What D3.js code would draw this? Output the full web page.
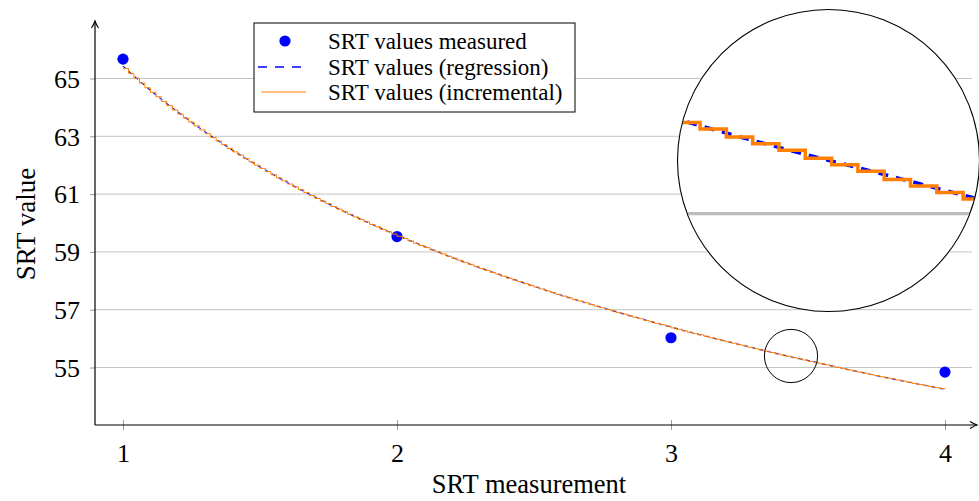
<!DOCTYPE html>
<html><head><meta charset="utf-8">
<script src="https://cdn.jsdelivr.net/npm/d3@7"></script>
<style>
body{margin:0;background:#fff}
svg{display:block}
text{font-family:'Liberation Serif','Times New Roman',serif;fill:#000}
</style>
</head><body>
<svg id="c" width="979" height="501"></svg>
<script>
// ---------- data ----------
const xTicks = [1, 2, 3, 4];
const yTicks = [55, 57, 59, 61, 63, 65];
const measuredX = [1, 2, 3, 4];
const measuredY = [65.67, 59.53, 56.03, 54.84];
const regressionX = [1.0,1.1,1.2,1.3,1.4,1.5,1.6,1.7,1.8,1.9,2.0,2.1,2.2,2.3,2.4,2.5,2.6,2.7,2.8,2.9,3.0,3.1,3.2,3.3,3.4,3.5,3.6,3.7,3.8,3.9,4.0];
const regressionY = [65.43,64.59,63.84,63.15,62.52,61.94,61.40,60.90,60.43,59.99,59.58,59.19,58.81,58.46,58.13,57.81,57.50,57.21,56.93,56.66,56.40,56.15,55.91,55.68,55.45,55.24,55.03,54.82,54.62,54.43,54.25];
const incrementalStart = 1.0, incrementalStep = 0.02;
const incrementalY = [
65.35,65.18,65.01,64.84,64.68, 64.52,64.37,64.21,64.06,63.91,
63.77,63.63,63.49,63.36,63.22, 63.09,62.96,62.84,62.71,62.58,
62.46,62.35,62.23,62.11,62.00, 61.89,61.78,61.67,61.56,61.46,
61.35,61.25,61.15,61.05,60.95, 60.85,60.76,60.67,60.57,60.48,
60.39,60.30,60.21,60.12,60.04, 59.95,59.87,59.78,59.70,59.62,
59.54,59.46,59.38,59.30,59.22, 59.15,59.07,59.00,58.93,58.85,
58.78,58.71,58.64,58.57,58.50, 58.43,58.36,58.29,58.23,58.16,
58.09,58.03,57.97,57.90,57.84, 57.78,57.72,57.65,57.59,57.53,
57.47,57.41,57.35,57.30,57.24, 57.18,57.12,57.07,57.01,56.96,
56.90,56.85,56.79,56.74,56.69, 56.63,56.58,56.53,56.48,56.43,
56.37,56.32,56.27,56.22,56.17, 56.13,56.08,56.03,55.98,55.93,
55.89,55.84,55.79,55.75,55.70, 55.65,55.61,55.56,55.52,55.47,
55.43,55.39,55.34,55.30,55.26, 55.21,55.17,55.13,55.09,55.05,
55.00,54.96,54.92,54.88,54.84, 54.80,54.76,54.72,54.68,54.64,
54.61,54.57,54.53,54.49,54.45, 54.41,54.38,54.34,54.30,54.27,
54.25];
const legendLabels = ["SRT values measured", "SRT values (regression)", "SRT values (incremental)"];

// ---------- setup ----------
const svg = d3.select("#c");
const BLUE = "#0000ff", ORANGE = "#ff8000", GRID = "#c4c4c4";
const x = d3.scaleLinear().domain([1, 4]).range([123, 945]);
const y = d3.scaleLinear().domain([55, 65]).range([367.5, 78.5]);
const axisX0 = 95, axisY0 = 425;

const measured = measuredX.map((v, i) => [v, measuredY[i]]);
const regression = regressionX.map((v, i) => [v, regressionY[i]]);
const incremental = incrementalY.map((v, i) => [+(incrementalStart + i * incrementalStep).toFixed(2), v]);

// grid
svg.append("g").selectAll("line").data(yTicks).join("line")
  .attr("x1", axisX0).attr("x2", 972)
  .attr("y1", d => y(d)).attr("y2", d => y(d))
  .attr("stroke", GRID).attr("stroke-width", 1);

// y axis ticks and labels
const gy = svg.append("g").attr("transform", `translate(${axisX0},0)`)
  .call(d3.axisLeft(y).tickValues(yTicks).tickSize(5).tickPadding(10).tickFormat(d3.format("d")));
gy.select(".domain").remove();
gy.selectAll(".tick line").attr("stroke", "#999");
gy.selectAll("text").attr("font-size", 26).attr("font-family", "'Liberation Serif',serif").attr("dy", "0.34em");

// x axis ticks and labels
const gx = svg.append("g").attr("transform", `translate(0,${axisY0})`)
  .call(d3.axisBottom(x).tickValues(xTicks).tickSize(5).tickFormat(d3.format("d")));
gx.select(".domain").remove();
gx.selectAll(".tick line").attr("y1", -5).attr("y2", 5).attr("stroke", "#999");
gx.selectAll("text").attr("font-size", 26).attr("font-family", "'Liberation Serif',serif").attr("y", 37).attr("dy", null);

// axis lines with arrows
svg.append("line").attr("x1", axisX0).attr("y1", axisY0).attr("x2", axisX0).attr("y2", 21).attr("stroke", "#000").attr("stroke-width", 1.2);
svg.append("path").attr("d", `M${axisX0-3.5},28 Q${axisX0-1},24 ${axisX0},21 Q${axisX0+1},24 ${axisX0+3.5},28`).attr("fill", "none").attr("stroke", "#000").attr("stroke-width", 1.1);
svg.append("line").attr("x1", axisX0).attr("y1", axisY0).attr("x2", 977).attr("y2", axisY0).attr("stroke", "#000").attr("stroke-width", 1.2);
svg.append("path").attr("d", `M970,${axisY0-3.5} Q974,${axisY0-1} 977,${axisY0} Q974,${axisY0+1} 970,${axisY0+3.5}`).attr("fill", "none").attr("stroke", "#000").attr("stroke-width", 1.1);

// axis titles
svg.append("text").attr("x", 529).attr("y", 493).attr("text-anchor", "middle").attr("font-size", 26.5).text("SRT measurement");
svg.append("text").attr("transform", "translate(35,224) rotate(-90)").attr("text-anchor", "middle").attr("font-size", 27).text("SRT value");

// series
function drawSeries(g, xs, ys, opts) {
  g.selectAll("circle.m").data(measured).join("circle").attr("class", "m")
    .attr("cx", d => xs(d[0])).attr("cy", d => ys(d[1])).attr("r", opts.r).attr("fill", BLUE);
  g.append("path").datum(regression)
    .attr("d", d3.line().x(d => xs(d[0])).y(d => ys(d[1])).curve(d3.curveCatmullRom))
    .attr("fill", "none").attr("stroke", BLUE).attr("stroke-width", opts.bw).attr("stroke-dasharray", opts.dash);
  g.append("path").datum(incremental)
    .attr("d", d3.line().x(d => xs(d[0])).y(d => ys(d[1])).curve(d3.curveStepAfter))
    .attr("fill", "none").attr("stroke", ORANGE).attr("stroke-width", opts.ow).attr("stroke-linejoin", "miter");
}
drawSeries(svg.append("g"), x, y, { r: 5.6, bw: 1.1, ow: 1.0, dash: "4,4" });

// spy circle (source)
svg.append("circle").attr("cx", 791).attr("cy", 356).attr("r", 26.6)
  .attr("fill", "none").attr("stroke", "#000").attr("stroke-width", 1);

// magnified inset
const cx = 828.5, cy = 160.5, R = 151, sx = 796.4, sy = 358.07, kx = 4.8, ky = 5.63;
const xz = d3.scaleLinear().domain(x.domain()).range(x.range().map(p => cx + (p - sx) * kx));
const yz = d3.scaleLinear().domain(y.domain()).range(y.range().map(p => cy + (p - sy) * ky));
svg.append("defs").append("clipPath").attr("id", "spy").append("circle").attr("cx", cx).attr("cy", cy).attr("r", R - 0.5);
svg.append("circle").attr("cx", cx).attr("cy", cy).attr("r", R).attr("fill", "#fff");
const gz = svg.append("g").attr("clip-path", "url(#spy)");
gz.selectAll("line").data(yTicks).join("line")
  .attr("x1", cx - R).attr("x2", cx + R).attr("y1", d => yz(d)).attr("y2", d => yz(d))
  .attr("stroke", "#bdbdbd").attr("stroke-width", 3.3);
drawSeries(gz, xz, yz, { r: 0, bw: 3.6, ow: 3.5, dash: "10,8" });
svg.append("circle").attr("cx", cx).attr("cy", cy).attr("r", R)
  .attr("fill", "none").attr("stroke", "#000").attr("stroke-width", 1.1);

// legend
const lg = svg.append("g");
lg.append("rect").attr("x", 254).attr("y", 23).attr("width", 321).attr("height", 89)
  .attr("fill", "#fff").attr("stroke", "#000").attr("stroke-width", 1);
const rowsY = [41, 67, 92];
lg.append("circle").attr("cx", 285).attr("cy", rowsY[0]).attr("r", 5.6).attr("fill", BLUE);
lg.append("line").attr("x1", 258).attr("x2", 304).attr("y1", rowsY[1]).attr("y2", rowsY[1])
  .attr("stroke", BLUE).attr("stroke-width", 1.4).attr("stroke-dasharray", "9,8");
lg.append("line").attr("x1", 261).attr("x2", 306).attr("y1", rowsY[2]).attr("y2", rowsY[2])
  .attr("stroke", ORANGE).attr("stroke-width", 1.1);
lg.selectAll("text").data(legendLabels).join("text")
  .attr("x", 328).attr("y", (d, i) => rowsY[i]).attr("dy", "0.33em")
  .attr("font-size", 23).text(d => d);
</script>
</body></html>
